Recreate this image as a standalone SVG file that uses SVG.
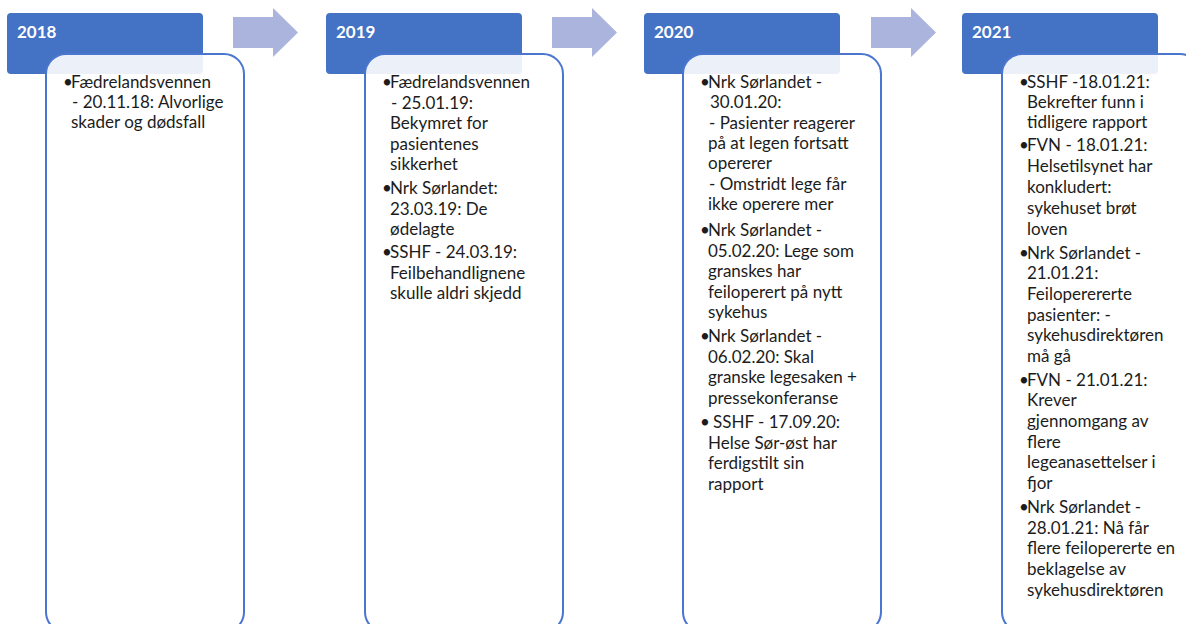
<svg xmlns="http://www.w3.org/2000/svg" width="1186" height="624" viewBox="0 0 1186 624">
<defs>
<style>
.hdr{fill:#4472C4}
.hdrtxt{font-family:Lato,"Liberation Sans",sans-serif;font-weight:bold;font-size:17px;fill:#ffffff}
.box{fill:#ffffff;fill-opacity:0.9;stroke:#4a76d0;stroke-width:2}
.arrow{fill:#aab4dc}
.t{font-family:Lato,"Liberation Sans",sans-serif;font-size:17px;fill:#1c1c1c}
</style>
</defs>
<rect width="1186" height="624" fill="#ffffff"/>
<g id="connectors">
<path class="arrow" d="M233,17 H273 V8 L298,32.5 L273,57 V48 H233 Z"/>
<path class="arrow" d="M552,17 H592 V8 L617,32.5 L592,57 V48 H552 Z"/>
<path class="arrow" d="M871,17 H911 V8 L936,32.5 L911,57 V48 H871 Z"/>
</g>
<g id="node-2018">
<rect class="hdr" x="7" y="13" width="196" height="61" rx="4"/>
<text class="hdrtxt" x="17" y="38">2018</text>
<rect class="box" x="46" y="54" width="198" height="578" rx="20"/>
<text class="t"><tspan x="63" y="88">•</tspan><tspan x="71" y="88">Fædrelandsvennen</tspan><tspan x="72" y="108">- 20.11.18: Alvorlige</tspan><tspan x="71" y="128">skader og dødsfall</tspan></text>
</g>
<g id="node-2019">
<rect class="hdr" x="326" y="13" width="196" height="61" rx="4"/>
<text class="hdrtxt" x="336" y="38">2019</text>
<rect class="box" x="365" y="54" width="198" height="578" rx="20"/>
<text class="t"><tspan x="382" y="88">•</tspan><tspan x="390" y="88">Fædrelandsvennen</tspan><tspan x="391" y="108.5">- 25.01.19:</tspan><tspan x="390" y="129">Bekymret for</tspan><tspan x="390" y="149.5">pasientenes</tspan><tspan x="390" y="170">sikkerhet</tspan><tspan x="382" y="194">•</tspan><tspan x="390" y="194">Nrk Sørlandet:</tspan><tspan x="390" y="214.5">23.03.19: De</tspan><tspan x="390" y="235">ødelagte</tspan><tspan x="382" y="258">•</tspan><tspan x="390" y="258">SSHF - 24.03.19:</tspan><tspan x="390" y="278.5">Feilbehandlignene</tspan><tspan x="390" y="299">skulle aldri skjedd</tspan></text>
</g>
<g id="node-2020">
<rect class="hdr" x="644" y="13" width="196" height="61" rx="4"/>
<text class="hdrtxt" x="654" y="38">2020</text>
<rect class="box" x="683" y="54" width="198" height="578" rx="20"/>
<text class="t"><tspan x="700" y="88">•</tspan><tspan x="708" y="88">Nrk Sørlandet -</tspan><tspan x="710" y="108">30.01.20:</tspan><tspan x="709" y="128.5">- Pasienter reagerer</tspan><tspan x="708" y="149">på at legen fortsatt</tspan><tspan x="708" y="169">opererer</tspan><tspan x="709" y="189.5">- Omstridt lege får</tspan><tspan x="708" y="210">ikke operere mer</tspan><tspan x="700" y="236">•</tspan><tspan x="708" y="236">Nrk Sørlandet -</tspan><tspan x="708" y="256.5">05.02.20: Lege som</tspan><tspan x="708" y="277">granskes har</tspan><tspan x="708" y="297.5">feiloperert på nytt</tspan><tspan x="708" y="318">sykehus</tspan><tspan x="700" y="342">•</tspan><tspan x="708" y="342">Nrk Sørlandet -</tspan><tspan x="708" y="362.5">06.02.20: Skal</tspan><tspan x="708" y="383">granske legesaken +</tspan><tspan x="708" y="403.5">pressekonferanse</tspan><tspan x="700" y="428">•</tspan><tspan x="713" y="428">SSHF - 17.09.20:</tspan><tspan x="708" y="448.5">Helse Sør-øst har</tspan><tspan x="708" y="469">ferdigstilt sin</tspan><tspan x="708" y="489.5">rapport</tspan></text>
</g>
<g id="node-2021">
<rect class="hdr" x="962" y="13" width="196" height="61" rx="4"/>
<text class="hdrtxt" x="972" y="38">2021</text>
<rect class="box" x="1002" y="54" width="198" height="578" rx="20"/>
<text class="t"><tspan x="1019" y="88">•</tspan><tspan x="1027" y="88">SSHF -18.01.21:</tspan><tspan x="1027" y="108">Bekrefter funn i</tspan><tspan x="1027" y="128">tidligere rapport</tspan><tspan x="1019" y="151">•</tspan><tspan x="1027" y="151">FVN - 18.01.21:</tspan><tspan x="1027" y="172">Helsetilsynet har</tspan><tspan x="1027" y="193">konkludert:</tspan><tspan x="1027" y="214">sykehuset brøt</tspan><tspan x="1027" y="235">loven</tspan><tspan x="1019" y="259">•</tspan><tspan x="1027" y="259">Nrk Sørlandet -</tspan><tspan x="1027" y="279">21.01.21:</tspan><tspan x="1027" y="300">Feiloperererte</tspan><tspan x="1027" y="321">pasienter: -</tspan><tspan x="1027" y="341">sykehusdirektøren</tspan><tspan x="1027" y="362">må gå</tspan><tspan x="1019" y="386">•</tspan><tspan x="1027" y="386">FVN - 21.01.21:</tspan><tspan x="1027" y="406">Krever</tspan><tspan x="1027" y="427">gjennomgang av</tspan><tspan x="1027" y="448">flere</tspan><tspan x="1027" y="468">legeanasettelser i</tspan><tspan x="1027" y="489">fjor</tspan><tspan x="1019" y="513">•</tspan><tspan x="1027" y="513">Nrk Sørlandet -</tspan><tspan x="1027" y="534">28.01.21: Nå får</tspan><tspan x="1027" y="554">flere feilopererte en</tspan><tspan x="1027" y="575">beklagelse av</tspan><tspan x="1027" y="596">sykehusdirektøren</tspan></text>
</g>
</svg>
